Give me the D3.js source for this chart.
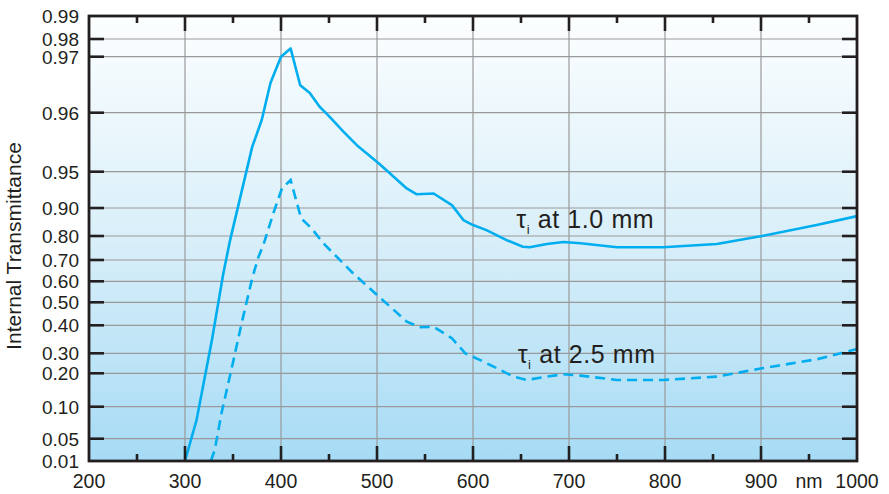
<!DOCTYPE html>
<html>
<head>
<meta charset="utf-8">
<script src="https://cdn.jsdelivr.net/npm/d3@7"></script>
<style>
  html, body { margin: 0; padding: 0; background: #fff; }
  svg text { font-family: "Liberation Sans", Arial, Helvetica, sans-serif; fill: #231f20; }
</style>
</head>
<body>
<div id="chart"></div>
<script>
// Wavelength ticks (nm)
var xTicks = [200, 300, 400, 500, 600, 700, 800, 900, 1000];
var xMinorTicks = [250, 350, 450, 550, 650, 750, 850, 950];

// Transmittance ticks, top to bottom (nonlinear axis)
var yTicks = [0.99, 0.98, 0.97, 0.96, 0.95, 0.90, 0.80, 0.70, 0.60, 0.50, 0.40, 0.30, 0.20, 0.10, 0.05, 0.01];
var yTickLabels = ['0.99', '0.98', '0.97', '0.96', '0.95', '0.90', '0.80', '0.70', '0.60', '0.50', '0.40', '0.30', '0.20', '0.10', '0.05', '0.01'];
// where each tick sits, as a fraction of the plot height
var yTickFractions = [0, 0.0517, 0.0915, 0.2173, 0.3499, 0.4315, 0.4944, 0.5483, 0.5962, 0.6434, 0.6951, 0.758, 0.8029, 0.878, 0.9499, 1];

// tau_i at 1.0 mm
var thinWavelength = [300, 312, 328, 340, 347, 370, 380, 389, 400, 410, 420, 430, 440, 449, 465, 479, 502, 531, 541, 559, 578, 590, 600, 614, 635, 652, 659, 677, 694, 712, 750, 798, 854, 901, 958, 1000];
var thinValue = [0.01, 0.079, 0.347, 0.639, 0.783, 0.9542, 0.9588, 0.9653, 0.970, 0.9747, 0.9649, 0.9635, 0.9611, 0.9596, 0.9568, 0.9545, 0.9514, 0.927, 0.919, 0.920, 0.904, 0.857, 0.839, 0.821, 0.783, 0.755, 0.753, 0.767, 0.775, 0.770, 0.753, 0.753, 0.767, 0.80, 0.839, 0.871];

// tau_i at 2.5 mm
var thickWavelength = [327, 331, 338, 349, 359, 370, 376, 382, 392, 401, 410, 421, 432, 444, 475, 503, 531, 545, 559, 578, 592, 607, 625, 642, 656, 677, 694, 712, 750, 798, 854, 901, 958, 1000];
var thickValue = [0.01, 0.030, 0.0897, 0.233, 0.409, 0.614, 0.707, 0.767, 0.881, 0.927, 0.9386, 0.863, 0.827, 0.770, 0.638, 0.523, 0.416, 0.393, 0.395, 0.354, 0.30, 0.267, 0.225, 0.190, 0.180, 0.190, 0.197, 0.193, 0.180, 0.180, 0.190, 0.225, 0.270, 0.315];

var width = 889;
var height = 494;
var margin = { top: 16, right: 32, bottom: 33, left: 89 };
var plotW = width - margin.left - margin.right;
var plotH = height - margin.top - margin.bottom;
var ink = '#231f20';
var blue = '#00aeef';

var svg = d3.select('#chart').append('svg')
  .attr('width', width)
  .attr('height', height);

var defs = svg.append('defs');
var grad = defs.append('linearGradient')
  .attr('id', 'bg-gradient')
  .attr('x1', '0%').attr('y1', '0%')
  .attr('x2', '0%').attr('y2', '100%');
grad.append('stop').attr('offset', '0%').attr('stop-color', '#fcfeff');
grad.append('stop').attr('offset', '50%').attr('stop-color', '#d9eff9');
grad.append('stop').attr('offset', '100%').attr('stop-color', '#a6dbf5');

var g = svg.append('g')
  .attr('transform', 'translate(' + margin.left + ',' + margin.top + ')');

var xScale = d3.scaleLinear().domain([200, 1000]).range([0, plotW]);
var yScale = d3.scaleLinear()
  .domain(yTicks)
  .range(yTickFractions.map(function(f) { return f * plotH; }));

g.append('rect')
  .attr('width', plotW)
  .attr('height', plotH)
  .attr('fill', 'url(#bg-gradient)');

// Grid
var grid = g.append('g').attr('stroke', '#999').attr('stroke-width', 1.2);
grid.selectAll('.vgrid')
  .data(xTicks.slice(1, -1))
  .enter().append('line')
  .attr('x1', function(d) { return xScale(d); })
  .attr('x2', function(d) { return xScale(d); })
  .attr('y1', 0)
  .attr('y2', plotH);
grid.selectAll('.hgrid')
  .data(yTicks.slice(1, -1))
  .enter().append('line')
  .attr('x1', 0)
  .attr('x2', plotW)
  .attr('y1', function(d) { return yScale(d); })
  .attr('y2', function(d) { return yScale(d); });

// Curves
var line = d3.line()
  .x(function(d) { return xScale(d[0]); })
  .y(function(d) { return yScale(d[1]); });

g.append('path')
  .datum(d3.zip(thinWavelength, thinValue))
  .attr('d', line)
  .attr('fill', 'none')
  .attr('stroke', blue)
  .attr('stroke-width', 2.6)
  .attr('stroke-linejoin', 'round');

g.append('path')
  .datum(d3.zip(thickWavelength, thickValue))
  .attr('d', line)
  .attr('fill', 'none')
  .attr('stroke', blue)
  .attr('stroke-width', 2.6)
  .attr('stroke-dasharray', '10,6');

// Ticks (inward)
var axisTicks = g.append('g').attr('stroke', ink).attr('stroke-width', 2.6);
axisTicks.selectAll('.ly')
  .data(yTicks.slice(1, -1))
  .enter().append('line')
  .attr('x1', 0).attr('x2', 15)
  .attr('y1', function(d) { return yScale(d); })
  .attr('y2', function(d) { return yScale(d); });
axisTicks.selectAll('.ry')
  .data(yTicks.slice(1, -1))
  .enter().append('line')
  .attr('x1', plotW - 15).attr('x2', plotW)
  .attr('y1', function(d) { return yScale(d); })
  .attr('y2', function(d) { return yScale(d); });
[0, plotH].forEach(function(yEdge) {
  var dir = yEdge === 0 ? 1 : -1;
  axisTicks.selectAll(null)
    .data(xTicks.slice(1, -1))
    .enter().append('line')
    .attr('x1', function(d) { return xScale(d); })
    .attr('x2', function(d) { return xScale(d); })
    .attr('y1', yEdge)
    .attr('y2', yEdge + dir * 15);
  axisTicks.selectAll(null)
    .data(xMinorTicks)
    .enter().append('line')
    .attr('x1', function(d) { return xScale(d); })
    .attr('x2', function(d) { return xScale(d); })
    .attr('y1', yEdge)
    .attr('y2', yEdge + dir * 7);
});

// Frame
g.append('rect')
  .attr('width', plotW)
  .attr('height', plotH)
  .attr('fill', 'none')
  .attr('stroke', ink)
  .attr('stroke-width', 2.8);

// Y tick labels
g.selectAll('.ylabel')
  .data(yTicks)
  .enter().append('text')
  .attr('x', -10)
  .attr('y', function(d) { return yScale(d); })
  .attr('dy', '0.36em')
  .attr('text-anchor', 'end')
  .style('font-size', '19px')
  .text(function(d, i) { return yTickLabels[i]; });

// X tick labels
g.selectAll('.xlabel')
  .data(xTicks)
  .enter().append('text')
  .attr('x', function(d) { return xScale(d); })
  .attr('y', plotH + 27)
  .attr('text-anchor', 'middle')
  .style('font-size', '19.5px')
  .text(function(d) { return d; });

g.append('text')
  .attr('x', xScale(950))
  .attr('y', plotH + 27)
  .attr('text-anchor', 'middle')
  .style('font-size', '19.5px')
  .text('nm');

// Axis title
svg.append('text')
  .attr('transform', 'translate(21,246) rotate(-90)')
  .attr('text-anchor', 'middle')
  .style('font-size', '21px')
  .text('Internal Transmittance');

// Curve annotations
function annotate(xPos, yPos, label) {
  var t = g.append('text')
    .attr('x', xPos)
    .attr('y', yPos)
    .style('font-size', '25px')
    .style('letter-spacing', '0.6px');
  t.append('tspan').text('\u03c4');
  t.append('tspan').attr('dy', 6).style('font-size', '13px').text('i');
  t.append('tspan').attr('dy', -6).text(' at ' + label);
}
annotate(xScale(645), 212, '1.0 mm');
annotate(xScale(646.5), 347, '2.5 mm');
</script>
</body>
</html>
